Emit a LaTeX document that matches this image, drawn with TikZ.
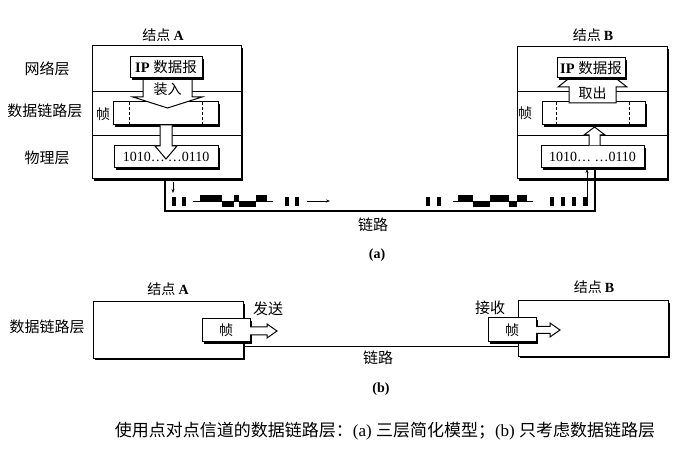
\documentclass[tikz,border=0pt]{standalone}
\usepackage{fontspec}
\setmainfont{Liberation Serif}
\newfontfamily\cjk{Noto Sans CJK SC}
\usetikzlibrary{arrows.meta}
\begin{document}
\begin{tikzpicture}[x=1pt,y=-1pt,
  shbox/.style={draw, line width=1pt, fill=white, inner sep=0pt, outer sep=0pt, anchor=north west,
    preaction={draw=none, fill=black, transform canvas={xshift=1.6pt,yshift=-1.6pt}}},
  cj/.style={font=\cjk\fontsize{14}{16}\selectfont, inner sep=0pt},
  cjl/.style={font=\cjk\fontsize{15}{17}\selectfont, inner sep=0pt},
  lat/.style={font=\fontsize{14}{16}\selectfont, inner sep=0pt},
  harrow/.style={draw, line width=1pt, fill=white, line join=miter},
  link/.style={line width=1.8pt},
  divider/.style={line width=0.8pt},
  fdash/.style={line width=0.8pt, dash pattern=on 3pt off 2pt},
  thinarr/.style={line width=0.6pt, -{Stealth[length=4pt,width=3pt]}},
  wave/.style={line width=0.9pt}]
\useasboundingbox (0,0) rectangle (686,457);

% ================= (a) node A =================
\node[shbox, minimum width=149pt, minimum height=133pt] (oA) at (92,46) {};
\draw[divider] (92,91) -- (241,91);
\draw[divider] (92,135) -- (241,135);
\node[shbox, minimum width=105pt, minimum height=23pt] (fA) at (113,102) {};
\draw[fdash] (129,102.5) -- (129,124.5);
\draw[fdash] (202,102.5) -- (202,124.5);
\node[shbox, minimum width=104pt, minimum height=22pt] (pA) at (114,146) {};
\draw[harrow] (143,76) -- (143,97) -- (133,97) -- (167.5,108) -- (202,97) -- (192,97) -- (192,76) -- cycle;
\node[shbox, minimum width=72pt, minimum height=21pt, font=\fontsize{14.5}{16}\selectfont] (ipA) at (130,57) {\textbf{IP} {\cjk 数据报}};
\draw[harrow] (160,125.5) -- (160,146) -- (155,146) -- (166,159) -- (177,146) -- (172,146) -- (172,125.5);
\node[lat] (tA) at (166,157) {1010…\hspace{3pt}…0110};
\node[cj] (zr) at (167.5,89) {装入};
\node[cj] (zA) at (103,114) {帧};

% ================= (a) node B =================
\node[shbox, minimum width=150pt, minimum height=132pt] (oB) at (517,47) {};
\draw[divider] (517,91) -- (667,91);
\draw[divider] (517,135) -- (667,135);
\node[shbox, minimum width=103pt, minimum height=23pt] (fB) at (542,102) {};
\draw[fdash] (556,102.5) -- (556,124.5);
\draw[fdash] (629,102.5) -- (629,124.5);
\node[shbox, minimum width=103pt, minimum height=22pt] (pB) at (541,146) {};
\draw[harrow] (569,103) -- (569,87) -- (558,87) -- (592.5,60) -- (627,87) -- (616,87) -- (616,103) -- cycle;
\node[shbox, minimum width=68pt, minimum height=20pt, font=\fontsize{14.5}{16}\selectfont] (ipB) at (557,58) {\textbf{IP} {\cjk 数据报}};
\draw[harrow] (589,145.5) -- (589,135) -- (584,135) -- (594.5,127) -- (605,135) -- (600,135) -- (600,145.5);
\node[lat] (tB) at (592.5,157) {1010… …0110};
\node[cj] (qc) at (592.5,93) {取出};
\node[cj] (zB) at (525,113) {帧};

% ================= (a) labels =================
\node[cj] (nA) at (163,35) {结点 {\rmfamily\bfseries A}};
\node[cj] (nB) at (593,35) {结点 {\rmfamily\bfseries B}};
\node[cjl] (l1) at (47,69) {网络层};
\node[cjl] (l2) at (45,111) {数据链路层};
\node[cjl] (l3) at (47,158) {物理层};

% ================= (a) link =================
\draw[link] ([xshift=73pt]oA.south west) |- (595,211) coordinate (rc) -- ([xshift=2.5pt]pB.south);
\draw[thinarr] (173,182) -- (173,193);
\draw[thinarr] (587,197) -- (587,169);
% bits left
\fill (172,197) rectangle (176,206);
\fill (182,197) rectangle (186,206);
\fill (285,197) rectangle (289,206);
\fill (295,197) rectangle (299,206);
\draw[wave] (193,201) -- (273,201);
\fill (200,195) rectangle (222,201);
\fill (222,201) rectangle (234,207);
\fill (234,195) rectangle (239,201);
\fill (239,201) rectangle (256,207);
\fill (256,195) rectangle (267,201);
\draw[thinarr] (307,201) -- (330,201);
% bits right
\fill (426,197) rectangle (430,206);
\fill (437,197) rectangle (441,206);
\draw[wave] (453,201) -- (533,201);
\fill (458,195) rectangle (473,201);
\fill (473,201) rectangle (490,207);
\fill (490,195) rectangle (509,201);
\fill (509,201) rectangle (517,207);
\fill (517,195) rectangle (527,201);
\fill (550,197) rectangle (554,206);
\fill (561,197) rectangle (565,206);
\fill (572,197) rectangle (576,206);
\fill (583,197) rectangle (587.5,206);
\node[cjl] (lk1) at (373,225) {链路};
\node[lat, font=\bfseries\fontsize{14}{16}\selectfont] (ca) at (377,255) {(a)};

% ================= (b) =================
\node[shbox, minimum width=150pt, minimum height=56pt] (bA) at (93,302) {};
\node[shbox, minimum width=150pt, minimum height=55pt] (bB) at (518,301) {};
\draw[link] ([yshift=11.5pt]bA.south east) -- ([yshift=9.5pt]bB.south west);
\node[shbox, minimum width=48pt, minimum height=23pt, font=\cjk\fontsize{14}{16}\selectfont] (bfA) at (202,319) {帧};
\node[shbox, minimum width=48pt, minimum height=24pt, font=\cjk\fontsize{14}{16}\selectfont] (bfB) at (488,318) {帧};
\draw[harrow] (bfA.east |- 0,327) -- (267,327) -- (267,324) -- (277,331) -- (267,338) -- (267,335) -- (bfA.east |- 0,335);
\draw[harrow] (bfB.east |- 0,326.5) -- (550,326.5) -- (550,323) -- (560,330) -- (550,337) -- (550,333.5) -- (bfB.east |- 0,333.5);
\node[cj] (bnA) at (168,289) {结点 {\rmfamily\bfseries A}};
\node[cj] (bnB) at (594,287) {结点 {\rmfamily\bfseries B}};
\node[cjl] (bl) at (47,327) {数据链路层};
\node[cjl] (fs) at (268,309) {发送};
\node[cjl] (js) at (490,308) {接收};
\node[cjl] (lk2) at (378,358) {链路};
\node[lat, font=\bfseries\fontsize{14}{16}\selectfont] (cb) at (381,389) {(b)};
\node[inner sep=0pt, font=\fontsize{17}{19}\selectfont] (cap) at (385,431)
  {{\cjk 使用点对点信道的数据链路层：}(a) {\cjk 三层简化模型；}(b) {\cjk 只考虑数据链路层}};
\end{tikzpicture}
\end{document}
